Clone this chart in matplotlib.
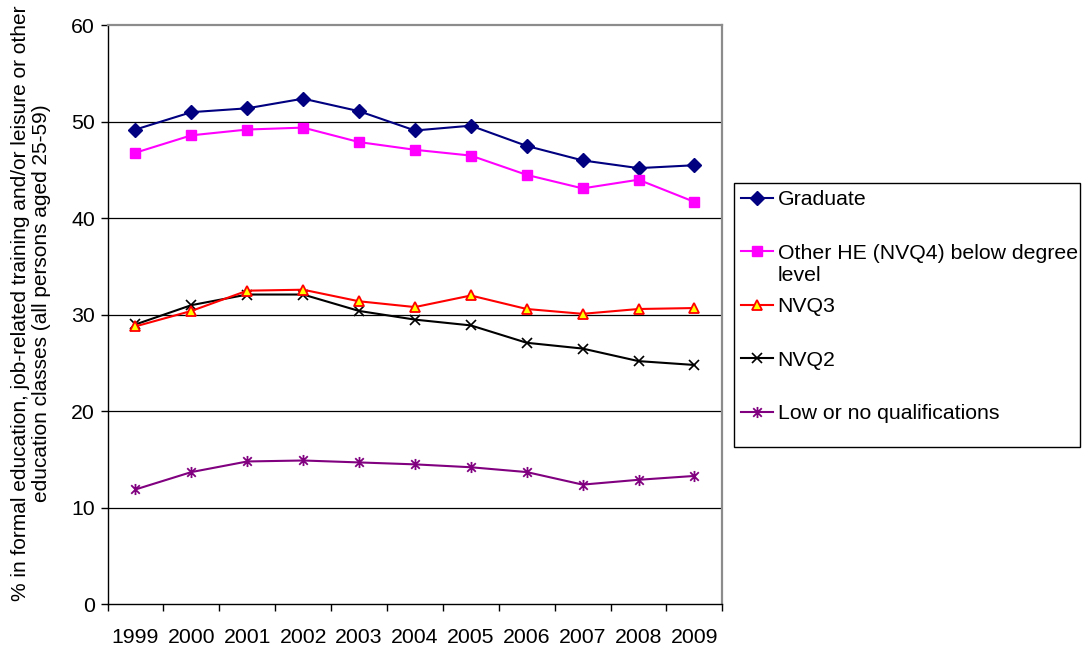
import matplotlib
matplotlib.use('Agg')
import matplotlib.pyplot as plt
from matplotlib.path import Path
from matplotlib.patches import Rectangle

plt.rcParams['font.family'] = ['Liberation Sans', 'DejaVu Sans']
FS = 15.3

years = ['1999', '2000', '2001', '2002', '2003', '2004',
         '2005', '2006', '2007', '2008', '2009']

graduate = [49.2, 51.0, 51.4, 52.4, 51.1, 49.1, 49.6, 47.5, 46.0, 45.2, 45.5]
other_he = [46.8, 48.6, 49.2, 49.4, 47.9, 47.1, 46.5, 44.5, 43.1, 44.0, 41.7]
nvq3 = [28.8, 30.4, 32.5, 32.6, 31.4, 30.8, 32.0, 30.6, 30.1, 30.6, 30.7]
nvq2 = [29.0, 31.0, 32.1, 32.1, 30.4, 29.5, 28.9, 27.1, 26.5, 25.2, 24.8]
low_none = [11.9, 13.7, 14.8, 14.9, 14.7, 14.5, 14.2, 13.7, 12.4, 12.9, 13.3]

# excel-style asterisk: an x with a vertical bar through it
asterisk = Path([(-1, -1), (1, 1), (-1, 1), (1, -1), (0, -1.3), (0, 1.3)],
                [Path.MOVETO, Path.LINETO, Path.MOVETO, Path.LINETO,
                 Path.MOVETO, Path.LINETO])

fig = plt.figure(figsize=(10.83, 6.46), dpi=100)
ax = fig.add_axes([0.0993, 0.0646, 0.5677, 0.8962])

x = list(range(len(years)))
lw = 1.5
ax.plot(x, graduate, color='#000080', lw=lw, marker='D', ms=7,
        mfc='#000080', mec='#000080', label='Graduate', zorder=5)
ax.plot(x, other_he, color='#FF00FF', lw=lw, marker='s', ms=7.5,
        mfc='#FF00FF', mec='#FF00FF',
        label='Other HE (NVQ4) below degree', zorder=5)
ax.plot(x, nvq3, color='#FF0000', lw=lw, marker='^', ms=7.5,
        mfc='#FFFF00', mec='#FF0000', mew=1.3, label='NVQ3', zorder=5)
ax.plot(x, nvq2, color='#000000', lw=lw, marker='x', ms=7.5,
        mec='#000000', mew=1.2, label='NVQ2', zorder=4)
ax.plot(x, low_none, color='#800080', lw=lw, marker=asterisk, ms=8,
        mec='#800080', mew=1.3, label='Low or no qualifications', zorder=5)

ax.set_xlim(-0.5, len(years) - 0.5)
ax.set_ylim(0, 60)
ax.set_yticks(range(0, 61, 10))
ax.set_xticks(x)
ax.set_xticklabels(years)
ax.set_xticks([i - 0.5 for i in range(len(years) + 1)], minor=True)
ax.tick_params(axis='x', which='major', length=0, pad=17, labelsize=FS)
ax.tick_params(axis='x', which='minor', length=5, width=1, direction='out')
ax.tick_params(axis='y', length=5, width=1, direction='out', pad=4,
               labelsize=FS)

for v in range(10, 60, 10):
    ax.axhline(v, color='#000000', lw=0.9, zorder=1)

for side in ('top', 'right'):
    ax.spines[side].set_color('#8c8c8c')
    ax.spines[side].set_linewidth(1.6)
for side in ('left', 'bottom'):
    ax.spines[side].set_color('#000000')
    ax.spines[side].set_linewidth(1.0)

ax.set_ylabel('% in formal education, job-related training and/or leisure or other\n'
              'education classes (all persons aged 25-59)', fontsize=15.0,
              linespacing=1.1)
ax.yaxis.set_label_coords(-0.092, 0.52)

# legend entries on an even pitch, frame drawn separately
leg = fig.legend(loc='upper left', bbox_to_anchor=(0.6777, 0.7167),
                 fontsize=FS, frameon=False, borderpad=0.35,
                 labelspacing=1.62, handlelength=1.5, handletextpad=0.2,
                 borderaxespad=0)
fig.add_artist(Rectangle((734 / 1083, 1 - 447 / 646), 346 / 1083, 264 / 646,
                         transform=fig.transFigure, fill=False,
                         edgecolor='#000000', lw=1.0))

# second line of the wrapped "Other HE" label
fig.canvas.draw()
renderer = fig.canvas.get_renderer()
bb = leg.get_texts()[1].get_window_extent(renderer)
x0, y0 = fig.transFigure.inverted().transform((bb.x0, bb.y0))
fig.text(x0, y0 - 3 / 646, 'level', fontsize=FS, ha='left', va='top')

fig.savefig('out.png', dpi=100, facecolor='white')
